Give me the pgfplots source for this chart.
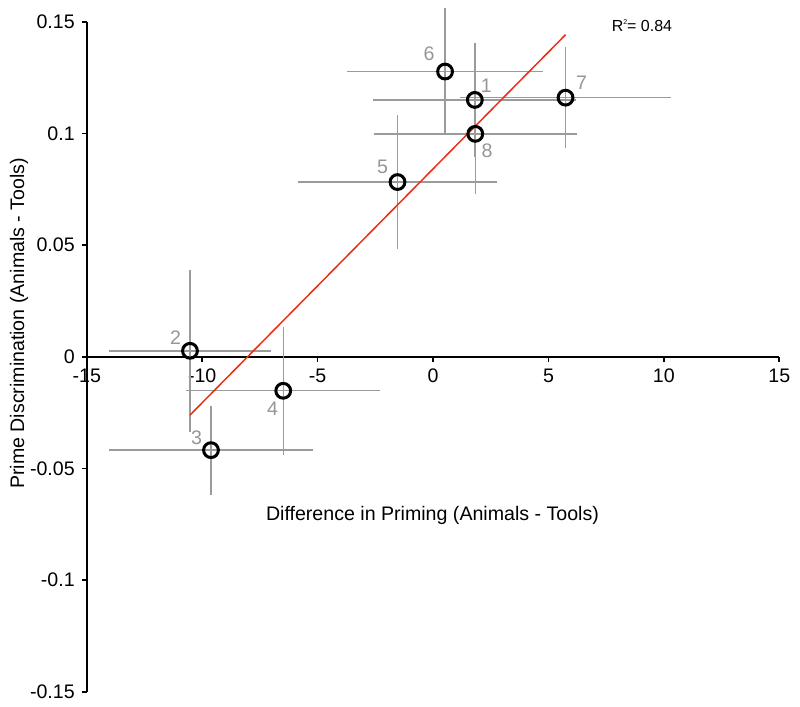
\documentclass[border=0pt]{standalone}
\usepackage{fontspec}
\setmainfont{Liberation Sans}
\usepackage{pgfplots}
\usepackage{pgfplotstable}
\pgfplotsset{compat=1.18}
\definecolor{errgray}{RGB}{155,155,155}
\definecolor{labgray}{RGB}{150,150,150}
\definecolor{fitred}{RGB}{235,45,20}
\pgfplotstableread{
x y ex ey
1.81 0.1151 4.40 0.0254
-10.53 0.0027 3.50 0.0364
-9.62 -0.0418 4.40 0.0200
-6.49 -0.0152 4.20 0.0287
-1.54 0.0783 4.30 0.0300
0.52 0.1278 4.24 0.0286
5.74 0.1161 4.59 0.0226
1.83 0.0999 4.40 0.0270
}\data
\newcommand{\lbl}{\fontsize{9.8}{11}\selectfont}
\begin{document}
\begin{tikzpicture}
\begin{axis}[
  at={(0,0)}, anchor=south west,
  scale only axis, width=346.25pt, height=334.85pt,
  xmin=-15, xmax=15, ymin=-0.15, ymax=0.15,
  enlargelimits=false, clip=false,
  axis x line=middle, axis y line=left,
  axis line style={line width=0.85pt, -},
  every inner x axis line/.append style={-},
  every outer y axis line/.append style={-},
  every outer x axis line/.append style={-},
  every inner y axis line/.append style={-},
  xtick={-15,-10,-5,0,5,10,15},
  xticklabels={-15,-10,-5,0,5,10,15},
  ytick={-0.15,-0.1,-0.05,0,0.05,0.1,0.15},
  yticklabels={-0.15,-0.1,-0.05,0,0.05,0.1,0.15},
  tick align=outside, major tick length=2.5pt,
  tick style={black, line width=0.85pt},
  hide obscured x ticks=false, hide obscured y ticks=false,
  ticklabel style={font=\lbl},
  xlabel={Difference in Priming (Animals - Tools)},
  xlabel style={font=\lbl, at={(axis description cs:0.4992,0.2638)}, anchor=center},
  ylabel={Prime Discrimination (Animals - Tools)},
  ylabel style={font=\lbl, at={(axis description cs:-0.098,0.55)}, anchor=center},
]
\addplot[draw=none, mark=none, forget plot,
  error bars/.cd, x dir=both, y dir=both, x explicit, y explicit,
  error mark=none, error bar style={draw=errgray, line width=0.7pt}]
  table[x=x, y=y, x error=ex, y error=ey] {\data};
\addplot[fitred, line width=0.75pt, mark=none] coordinates {(-10.53,-0.0261) (5.74,0.1443)};
\addplot[draw=none, mark=o, mark size=3.7pt, mark options={draw=black, fill=none, line width=1.5pt}]
  table[x=x, y=y] {\data};
\node[labgray, font=\lbl] at (axis cs:2.31,0.1214) {1};
\node[labgray, font=\lbl] at (axis cs:-11.15,0.0087) {2};
\node[labgray, font=\lbl] at (axis cs:-10.24,-0.0361) {3};
\node[labgray, font=\lbl] at (axis cs:-6.95,-0.0231) {4};
\node[labgray, font=\lbl] at (axis cs:-2.19,0.0852) {5};
\node[labgray, font=\lbl] at (axis cs:-0.17,0.1357) {6};
\node[labgray, font=\lbl] at (axis cs:6.43,0.1226) {7};
\node[labgray, font=\lbl] at (axis cs:2.34,0.0924) {8};
\node[font=\fontsize{8}{9}\selectfont] at (axis cs:9.05,0.1483) {R\raisebox{0.8ex}{\fontsize{3.5}{4}\selectfont 2}= 0.84};
\end{axis}
\pgfresetboundingbox
\path[use as bounding box] (-43.4pt,-7.65pt) rectangle (356.6pt,345.85pt);
\end{tikzpicture}
\end{document}
